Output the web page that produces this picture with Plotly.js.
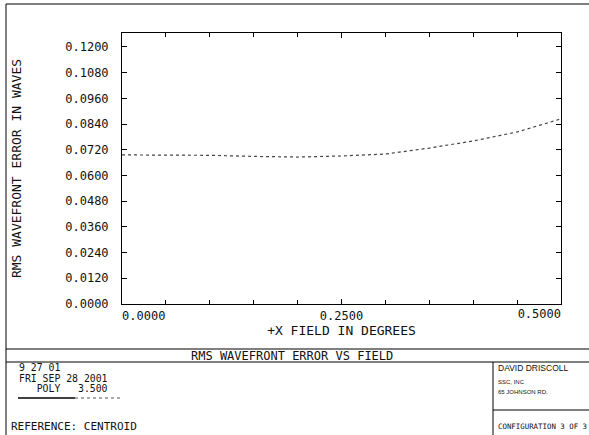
<!DOCTYPE html>
<html><head><meta charset="utf-8">
<script src="https://cdn.plot.ly/plotly-3.0.1.min.js"></script>
<style>html,body{margin:0;padding:0;background:#fff;}#chart{width:589px;height:435px;}</style>
</head><body><div id="chart"></div>
<script>
// ---- data ----
const fieldDeg = [0.0, 0.05, 0.10, 0.15, 0.20, 0.25, 0.30, 0.35, 0.40, 0.45, 0.50];
const rmsWaves = [0.0696, 0.0696, 0.0694, 0.0689, 0.0686, 0.0691, 0.0700, 0.0728, 0.0761, 0.0803, 0.0864];
const xTickVals = [0, 0.25, 0.5];
const xTickLabels = ["0.0000", "0.2500", "0.5000"];
const yTickStep = 0.012;
const chartTitle = "RMS WAVEFRONT ERROR VS FIELD";
const xTitle = "+X FIELD IN DEGREES";
const yTitle = "RMS WAVEFRONT ERROR IN WAVES";
const footerLeft = ["9 27 01", "FRI SEP 28 2001", "\u00a0\u00a0\u00a0POLY\u00a0\u00a0\u00a03.500"];
const referenceText = "REFERENCE: CENTROID";
const footerRight = ["DAVID DRISCOLL", "SSC, INC", "65 JOHNSON RD."];
const configText = "CONFIGURATION 3 OF 3";

// ---- layout helpers (pixel -> paper) ----
const L = 122, R = 561, T = 33, B = 304, W = 589, H = 435;
const px = x => (x - L) / (R - L);
const py = y => (B - y) / (B - T);
const mono = "DejaVu Sans Mono, Liberation Mono, monospace";
const narrow = "Liberation Sans Narrow, Liberation Sans, sans-serif";
const nb = n => "\u00a0".repeat(n);
const xFontSize = 12;

// main x axis: first label starts at its tick (leading blanks), middle one centred, last one drawn by x2 (right-aligned)
const lastIdx = xTickLabels.length - 1;
const xTextMain = xTickLabels.map((t, i) => i === 0 ? nb(6) + t : (i === lastIdx ? "" : t));

function line(x0, y0, x1, y1, extra) {
  return Object.assign({type: 'line', xref: 'paper', yref: 'paper',
    x0: px(x0), y0: py(y0), x1: px(x1), y1: py(y1),
    line: {color: '#000', width: 1}}, extra || {});
}
function txt(x, y, text, size, xanchor, fam) {
  return {xref: 'paper', yref: 'paper', x: px(x), y: py(y), text: text, showarrow: false,
    xanchor: xanchor || 'left', yanchor: 'middle', borderpad: 0,
    font: {family: fam || mono, size: size, color: '#111'}};
}

const shapes = [
  line(6, 4, 589, 4),
  line(6, 4, 6, 435),
  line(6, 349, 589, 349),
  line(6, 362, 589, 362),
  line(493, 362, 493, 435),
  line(493, 410, 589, 410),
  line(18, 398, 75, 398, {line: {color: '#000', width: 1.3}}),
  line(75, 398, 122, 398, {line: {color: '#555', width: 1, dash: 'dot'}})
];

const annotations = [
  txt(292, 356, chartTitle, 12, 'center'),
  txt(18, 367.5, footerLeft[0], 9.8),
  txt(18, 378, footerLeft[1], 9.8),
  txt(18, 388.5, footerLeft[2], 9.8),
  txt(10, 426, referenceText, 11),
  txt(497, 368, footerRight[0], 8.5, 'left', narrow),
  txt(497, 382, footerRight[1], 6, 'left', narrow),
  txt(497, 392, footerRight[2], 6, 'left', narrow),
  txt(497, 426, configText, 7.4)
];

const trace = {
  x: fieldDeg, y: rmsWaves, type: 'scatter', mode: 'lines',
  line: {color: '#444', width: 1.2, dash: 'dot'}, hoverinfo: 'skip'
};
// empty trace only so that the overlaying x2 axis (right-aligned last label) is drawn
const axisHolder = {x: [], y: [], type: 'scatter', mode: 'lines', xaxis: 'x2', yaxis: 'y', hoverinfo: 'skip', showlegend: false};

const tickFont = {family: mono, size: xFontSize, color: '#111'};

const layout = {
  width: W, height: H,
  margin: {l: L, r: W - R, t: T, b: H - B, pad: 0},
  paper_bgcolor: '#fff', plot_bgcolor: '#fff',
  showlegend: false,
  font: {family: mono, color: '#111'},
  xaxis: {
    range: [0, 0.5], tickmode: 'array', tickvals: xTickVals, ticktext: xTextMain,
    ticks: 'inside', ticklen: 5, tickcolor: '#000', mirror: 'ticks',
    showline: true, linecolor: '#000', linewidth: 1, showgrid: false, zeroline: false,
    tickfont: tickFont, ticklabelstandoff: 1,
    minor: {dtick: 0.05, tick0: 0, ticks: 'inside', ticklen: 4, tickcolor: '#000', showgrid: false},
    title: {text: xTitle, font: {family: mono, size: 13, color: '#111'}, standoff: 0}
  },
  xaxis2: {
    overlaying: 'x', anchor: 'y', side: 'bottom', range: [0, 0.5],
    tickmode: 'array', tickvals: [xTickVals[lastIdx]], ticktext: [xTickLabels[lastIdx]],
    ticklabelposition: 'outside left', ticks: '', showline: false, showgrid: false, zeroline: false,
    tickfont: tickFont, ticklabelstandoff: 1
  },
  yaxis: {
    range: [0, 0.1265], tick0: 0, dtick: yTickStep, tickformat: '.4f',
    ticks: 'inside', ticklen: 5, tickcolor: '#000', mirror: 'ticks',
    showline: true, linecolor: '#000', linewidth: 1, showgrid: false, zeroline: false,
    tickfont: tickFont, ticklabelstandoff: 10,
    title: {text: yTitle, font: {family: mono, size: 13, color: '#111'}, standoff: 40}
  },
  shapes: shapes,
  annotations: annotations
};

Plotly.newPlot('chart', [trace, axisHolder], layout, {staticPlot: true, displayModeBar: false});
</script>
</body></html>
